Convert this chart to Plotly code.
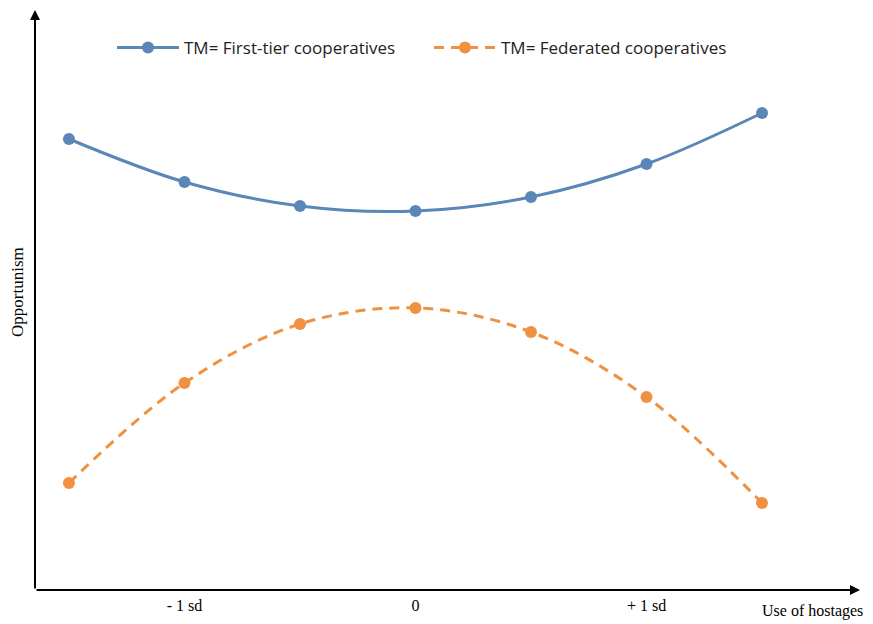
import plotly.graph_objects as go

x_vals = [-1.5, -1.0, -0.5, 0.0, 0.5, 1.0, 1.5]
first_tier = [4.51, 4.08, 3.84, 3.79, 3.93, 4.26, 4.77]
federated = [1.07, 2.07, 2.66, 2.82, 2.58, 1.93, 0.87]
tick_vals = [-1, 0, 1]
tick_text = ["- 1 sd", "0", "+ 1 sd"]

XMIN, XMAX = -1.647, 1.924
YMIN, YMAX = 0.0, 5.8
OFF = 8  # page body offset in the screenshot
W, H = 873, 624
L, R, T, B = 35 - OFF, 13 + OFF, 10 - OFF, 34 + OFF
PW, PH = W - L - R, H - T - B


def px_x(sx):
    return (sx - OFF - L) / PW


def px_y(sy):
    return (H - B - (sy - OFF)) / PH


fig = go.Figure()
fig.add_trace(go.Scatter(
    x=x_vals, y=first_tier, mode="lines+markers",
    name="TM= First-tier cooperatives",
    line=dict(color="#5b86b8", width=3, shape="spline"),
    marker=dict(color="#5b86b8", size=12),
))
fig.add_trace(go.Scatter(
    x=x_vals, y=federated, mode="lines+markers",
    name="TM= Federated cooperatives",
    line=dict(color="#ef9140", width=3, shape="spline", dash="10px,7px"),
    marker=dict(color="#ef9140", size=12),
))

# axes with arrows
fig.add_annotation(x=XMIN, y=YMAX, ax=XMIN, ay=YMIN, xref="x", yref="y",
                   axref="x", ayref="y", showarrow=True, arrowhead=2,
                   arrowsize=1, arrowwidth=2, arrowcolor="black", text="")
fig.add_annotation(x=XMAX, y=YMIN, ax=XMIN, ay=YMIN, xref="x", yref="y",
                   axref="x", ayref="y", showarrow=True, arrowhead=2,
                   arrowsize=1, arrowwidth=2, arrowcolor="black", text="")

fig.add_annotation(x=px_x(812), y=px_y(611), xref="paper", yref="paper",
                   text="Use of hostages", showarrow=False, xanchor="center", yanchor="middle",
                   font=dict(family="Liberation Serif", size=16, color="black"))
fig.add_annotation(x=px_x(17), y=px_y(292), xref="paper", yref="paper",
                   text="Opportunism", showarrow=False, textangle=-90,
                   xanchor="center", yanchor="middle", borderpad=0,
                   font=dict(family="Liberation Serif", size=17, color="black"))

fig.update_layout(
    width=W, height=H,
    margin=dict(l=L, r=R, t=T, b=B, autoexpand=False),
    paper_bgcolor="white", plot_bgcolor="white",
    showlegend=True,
    legend=dict(orientation="h", x=px_x(112), y=px_y(30),
                xanchor="left", yanchor="top",
                font=dict(family="Open Sans", size=17, color="#222"),
                entrywidth=240, entrywidthmode="pixels",
                itemwidth=62, bgcolor="rgba(0,0,0,0)"),
    xaxis=dict(range=[XMIN, XMAX], showgrid=False, zeroline=False, showline=False,
               tickvals=tick_vals, ticktext=tick_text, ticks="", automargin=False,
               ticklabelstandoff=4,
               tickfont=dict(family="Liberation Serif", size=16, color="black")),
    yaxis=dict(range=[YMIN, YMAX], showgrid=False, zeroline=False, showline=False,
               showticklabels=False, ticks="", automargin=False),
)

fig.write_html("out.html")
